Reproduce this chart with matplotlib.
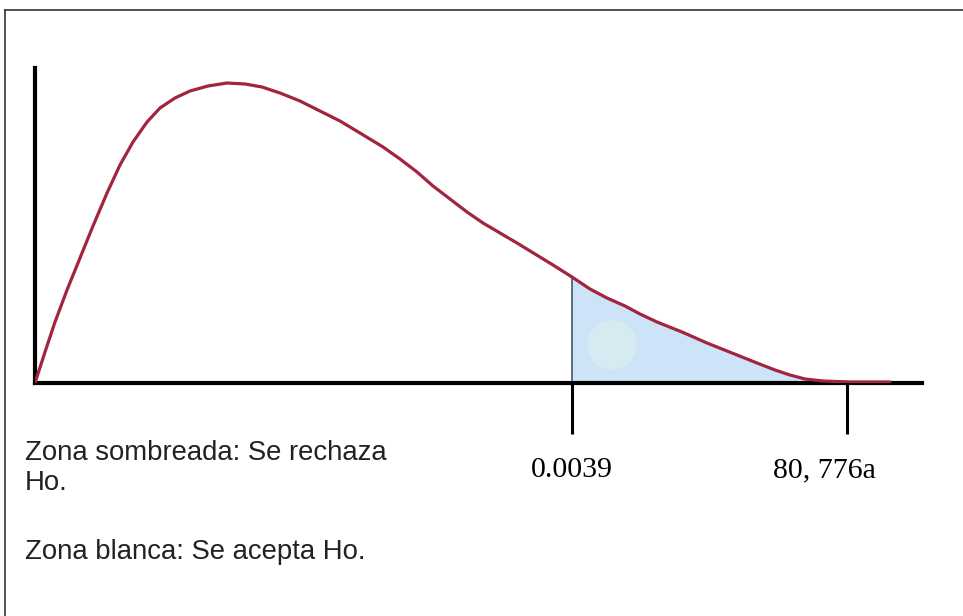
import numpy as np
import matplotlib
matplotlib.use("Agg")
import matplotlib.pyplot as plt
from matplotlib.lines import Line2D
from matplotlib.patches import Ellipse

# curve (x along the axis, y height above it)
curve_x = [0, 1.0, 2.0, 3.2, 4.5, 5.8, 7.2, 8.5, 9.8, 11.2, 12.5, 14.0, 15.5,
           17.3, 19.2, 21.0, 22.7, 24.5, 26.5, 28.5, 30.5, 32.5, 34.8, 36.5,
           38.2, 39.8, 41.5, 43.2, 44.8, 46.5, 48.2, 50.0, 51.8, 53.7, 55.5,
           57.2, 59.0, 60.5, 62.2, 64.7, 67.2, 69.7, 72.2, 74.0, 75.5, 77.0,
           78.8, 81.5, 85.5]
curve_y = [0, 3.1, 6.1, 9.3, 12.5, 15.7, 19.0, 21.8, 24.1, 26.1, 27.5, 28.5,
           29.2, 29.7, 30.0, 29.9, 29.6, 29.0, 28.2, 27.2, 26.2, 25.0, 23.6,
           22.4, 21.1, 19.7, 18.4, 17.1, 16.0, 15.0, 14.0, 12.9, 11.8, 10.6,
           9.4, 8.5, 7.7, 6.9, 6.1, 5.1, 4.0, 3.0, 2.0, 1.3, 0.8, 0.4, 0.2,
           0.1, 0.1]

cut_x = 53.7          # start of the rejection zone
tick_x = [53.7, 81.2]
tick_labels = ["0.0039", "80, 776a"]
label_x = [53.7, 78.9]
notes = ["Zona sombreada: Se rechaza\nHo.", "Zona blanca: Se acepta Ho."]

W, H = 963, 616
fig = plt.figure(figsize=(W / 100, H / 100), dpi=100)
ax = fig.add_axes([35 / W, (H - 383) / H, (922 - 35) / W, (383 - 68) / H])
ax.set_xlim(0, 88.7)
ax.set_ylim(0, 31.5)

cx = np.array(curve_x)
cy = np.array(curve_y)

# shaded rejection zone
ax.fill_between(cx, 0, cy, where=cx >= cut_x, color="#cde4f8", lw=0, zorder=1)
ax.add_patch(Ellipse((57.7, 3.8), 5.0, 5.0, color="#d6eaf2", lw=0, zorder=1.5))
ax.plot([cut_x, cut_x], [0, np.interp(cut_x, cx, cy)], color="#5d6e80",
        lw=1.4, zorder=2)

ax.plot(cx, cy, color="#a3243f", lw=2.3, solid_capstyle="round",
        solid_joinstyle="round", zorder=3)

for s in ["top", "right"]:
    ax.spines[s].set_visible(False)
for s in ["left", "bottom"]:
    ax.spines[s].set_linewidth(3)
    ax.spines[s].set_color("black")
ax.set_yticks([])
ax.set_xticks(tick_x)
ax.set_xticklabels([])
ax.tick_params(axis="x", direction="out", length=37, width=2.2, color="black")

for x, t in zip(label_x, tick_labels):
    ax.text(x, -9.4, t, ha="center", va="baseline", fontsize=21.5,
            family="Liberation Serif", color="black")

fig.text(25 / W, 1 - 490 / H, notes[0], ha="left", va="baseline",
         fontsize=19.8, family="Liberation Sans", color="#222222",
         linespacing=1.2)
fig.text(25 / W, 1 - 559 / H, notes[1], ha="left", va="baseline",
         fontsize=19.8, family="Liberation Sans", color="#222222")

# frame of the original screenshot
fig.add_artist(Line2D([5 / W, 1], [1 - 10 / H, 1 - 10 / H], color="#333333",
                      lw=1.2, transform=fig.transFigure))
fig.add_artist(Line2D([5 / W, 5 / W], [0, 1 - 10 / H], color="#333333",
                      lw=1.2, transform=fig.transFigure))

fig.savefig("out.png", dpi=100, facecolor="white")
